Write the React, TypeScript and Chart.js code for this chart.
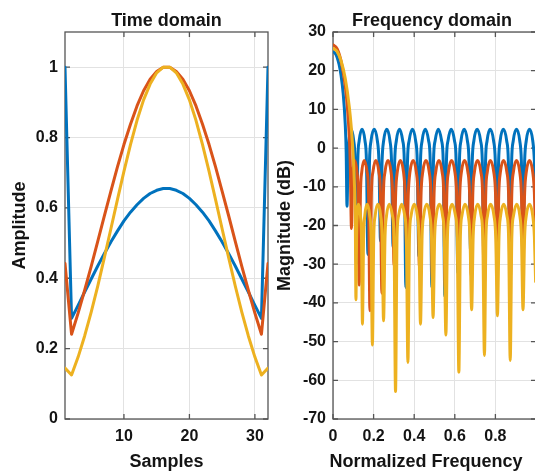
import React, { useEffect, useRef } from "react";
import { Chart, registerables } from "chart.js";

Chart.register(...registerables);

// ---------- data ----------
const sampleIndex = [1, 2, 3, 4, 5, 6, 7, 8, 9, 10, 11, 12, 13, 14, 15, 16, 17, 18, 19, 20, 21, 22, 23, 24, 25, 26, 27, 28, 29, 30, 31, 32];

const window20dB = [1, 0.286, 0.323, 0.361, 0.398, 0.435, 0.47, 0.503, 0.534, 0.563, 0.588, 0.609, 0.627, 0.641, 0.65, 0.655, 0.655, 0.65, 0.641, 0.627, 0.609, 0.588, 0.563, 0.534, 0.503, 0.47, 0.435, 0.398, 0.361, 0.323, 0.286, 1];
const window30dB = [0.442, 0.241, 0.301, 0.366, 0.434, 0.505, 0.577, 0.647, 0.716, 0.78, 0.838, 0.89, 0.933, 0.966, 0.988, 1, 1, 0.988, 0.966, 0.933, 0.89, 0.838, 0.78, 0.716, 0.647, 0.577, 0.505, 0.434, 0.366, 0.301, 0.241, 0.442];
const window40dB = [0.145, 0.125, 0.176, 0.236, 0.304, 0.378, 0.458, 0.54, 0.623, 0.704, 0.78, 0.849, 0.907, 0.952, 0.984, 1, 1, 0.984, 0.952, 0.907, 0.849, 0.78, 0.704, 0.623, 0.54, 0.458, 0.378, 0.304, 0.236, 0.176, 0.125, 0.145];

const timeXTicks = [10, 20, 30];
const timeYTicks = [0, 0.2, 0.4, 0.6, 0.8, 1];
const freqXTicks = [0, 0.2, 0.4, 0.6, 0.8, 1];
const freqYTicks = [-70, -60, -50, -40, -30, -20, -10, 0, 10, 20, 30];

// [normalized frequency, magnitude dB]
const response20dB: [number, number][] = [
  [0, 24.9], [0.01, 24.55], [0.02, 23.5], [0.03, 21.6], [0.04, 18.7], [0.05, 14.2], [0.06, 6.5], [0.065, -1.1],
  [0.069, -15], [0.074, -3.4], [0.079, 1.9], [0.089, 4.9], [0.102, 1.9], [0.1085, -3.4],
  [0.115, -30], [0.122, -3.4], [0.129, 1.9], [0.143, 4.9], [0.1575, 1.9], [0.1648, -3.4],
  [0.172, -27.5], [0.1798, -3.4], [0.1875, 1.9], [0.203, 4.9], [0.2185, 1.9], [0.2263, -3.4],
  [0.234, -24], [0.2418, -3.4], [0.2495, 1.9], [0.265, 4.9], [0.2805, 1.9], [0.2883, -3.4],
  [0.296, -25.6], [0.304, -3.4], [0.312, 1.9], [0.328, 4.9], [0.3435, 1.9], [0.3513, -3.4],
  [0.359, -36], [0.367, -3.4], [0.375, 1.9], [0.391, 4.9], [0.407, 1.9], [0.415, -3.4],
  [0.423, -28], [0.431, -3.4], [0.439, 1.9], [0.455, 4.9], [0.471, 1.9], [0.479, -3.4],
  [0.487, -36], [0.495, -3.4], [0.503, 1.9], [0.519, 4.9], [0.535, 1.9], [0.543, -3.4],
  [0.551, -38.3], [0.5588, -3.4], [0.5665, 1.9], [0.582, 4.9], [0.5985, 1.9], [0.6068, -3.4],
  [0.615, -32.3], [0.6228, -3.4], [0.6305, 1.9], [0.646, 4.9], [0.662, 1.9], [0.67, -3.4],
  [0.678, -27], [0.686, -3.4], [0.694, 1.9], [0.71, 4.9], [0.727, 1.9], [0.7355, -3.4],
  [0.744, -31], [0.7515, -3.4], [0.759, 1.9], [0.774, 4.9], [0.791, 1.9], [0.7995, -3.4],
  [0.808, -26], [0.8158, -3.4], [0.8235, 1.9], [0.839, 4.9], [0.8555, 1.9], [0.8638, -3.4],
  [0.872, -29], [0.88, -3.4], [0.888, 1.9], [0.904, 4.9], [0.92, 1.9], [0.928, -3.4],
  [0.936, -24], [0.944, -3.4], [0.952, 1.9], [0.968, 4.9], [0.984, 1.9], [0.992, -3.4],
  [0.998, -15],
];

const response30dB: [number, number][] = [
  [0, 26.7], [0.02, 25.7], [0.04, 22.4], [0.06, 16.2], [0.07, 11.1], [0.08, 3.3], [0.085, -3.5],
  [0.091, -20.8], [0.095, -11.5], [0.099, -6.2], [0.107, -3.2], [0.118, -6.2], [0.1235, -11.5],
  [0.129, -35.4], [0.1353, -11.5], [0.1415, -6.2], [0.154, -3.2], [0.168, -6.2], [0.175, -11.5],
  [0.182, -42], [0.1893, -11.5], [0.1965, -6.2], [0.211, -3.2], [0.226, -6.2], [0.2335, -11.5],
  [0.241, -37.5], [0.2485, -11.5], [0.256, -6.2], [0.271, -3.2], [0.286, -6.2], [0.2935, -11.5],
  [0.301, -30.3], [0.3088, -11.5], [0.3165, -6.2], [0.332, -3.2], [0.3475, -6.2], [0.3553, -11.5],
  [0.363, -26], [0.371, -11.5], [0.379, -6.2], [0.395, -3.2], [0.4105, -6.2], [0.4183, -11.5],
  [0.426, -30.8], [0.434, -11.5], [0.442, -6.2], [0.458, -3.2], [0.474, -6.2], [0.482, -11.5],
  [0.49, -34], [0.498, -11.5], [0.506, -6.2], [0.522, -3.2], [0.5375, -6.2], [0.5453, -11.5],
  [0.553, -36], [0.5608, -11.5], [0.5685, -6.2], [0.584, -3.2], [0.6005, -6.2], [0.6088, -11.5],
  [0.617, -30], [0.6248, -11.5], [0.6325, -6.2], [0.648, -3.2], [0.6645, -6.2], [0.6728, -11.5],
  [0.681, -33], [0.6888, -11.5], [0.6965, -6.2], [0.712, -3.2], [0.7285, -6.2], [0.7368, -11.5],
  [0.745, -37], [0.7525, -11.5], [0.76, -6.2], [0.775, -3.2], [0.792, -6.2], [0.8005, -11.5],
  [0.809, -31], [0.8168, -11.5], [0.8245, -6.2], [0.84, -3.2], [0.8565, -6.2], [0.8648, -11.5],
  [0.873, -35], [0.8808, -11.5], [0.8885, -6.2], [0.904, -3.2], [0.92, -6.2], [0.928, -11.5],
  [0.936, -30], [0.944, -11.5], [0.952, -6.2], [0.968, -3.2], [0.984, -6.2], [0.992, -11.5],
  [0.998, -23],
];

const response40dB: [number, number][] = [
  [0, 25.8], [0.02, 25], [0.04, 22.5], [0.06, 18.1], [0.08, 10.8], [0.09, 5.4], [0.1, -2.5], [0.105, -8.4], [0.11, -19],
  [0.113, -39.2], [0.1163, -22.8], [0.1195, -17.5], [0.126, -14.5], [0.1355, -17.5], [0.1403, -22.8],
  [0.145, -45.5], [0.1508, -22.8], [0.1565, -17.5], [0.168, -14.5], [0.181, -17.5], [0.1875, -22.8],
  [0.194, -50.9], [0.2008, -22.8], [0.2075, -17.5], [0.221, -14.5], [0.235, -17.5], [0.242, -22.8],
  [0.249, -44.6], [0.2563, -22.8], [0.2635, -17.5], [0.278, -14.5], [0.293, -17.5], [0.3005, -22.8],
  [0.308, -62.9], [0.3155, -22.8], [0.323, -17.5], [0.338, -14.5], [0.3535, -17.5], [0.3613, -22.8],
  [0.369, -55.4], [0.3768, -22.8], [0.3845, -17.5], [0.4, -14.5], [0.4155, -17.5], [0.4233, -22.8],
  [0.431, -45.5], [0.4388, -22.8], [0.4465, -17.5], [0.462, -14.5], [0.4775, -17.5], [0.4853, -22.8],
  [0.493, -43.8], [0.5008, -22.8], [0.5085, -17.5], [0.524, -14.5], [0.54, -17.5], [0.548, -22.8],
  [0.556, -48.3], [0.5638, -22.8], [0.5715, -17.5], [0.587, -14.5], [0.6035, -17.5], [0.6118, -22.8],
  [0.62, -57.9], [0.6275, -22.8], [0.635, -17.5], [0.65, -14.5], [0.6665, -17.5], [0.6748, -22.8],
  [0.683, -41.8], [0.6905, -22.8], [0.698, -17.5], [0.713, -14.5], [0.7295, -17.5], [0.7378, -22.8],
  [0.746, -53.6], [0.7535, -22.8], [0.761, -17.5], [0.776, -14.5], [0.793, -17.5], [0.8015, -22.8],
  [0.81, -43.3], [0.8178, -22.8], [0.8255, -17.5], [0.841, -14.5], [0.857, -17.5], [0.865, -22.8],
  [0.873, -54.9], [0.881, -22.8], [0.889, -17.5], [0.905, -14.5], [0.9205, -17.5], [0.9283, -22.8],
  [0.936, -41.8], [0.944, -22.8], [0.952, -17.5], [0.968, -14.5], [0.984, -17.5], [0.992, -22.8],
  [0.998, -34.5],
];

const seriesColors = ["#0072BD", "#D95319", "#EDB120"];

// ---------- styling ----------
const FONT = '"Liberation Sans", Arial, Helvetica, sans-serif';
const TEXT = "#141414";
const GRID = "#e2e2e2";

const framePlugin = {
  id: "matlabFrame",
  beforeDatasetsDraw(chart: any) {
    const { ctx, chartArea: a } = chart;
    const xs = chart.scales.x;
    const ys = chart.scales.y;
    ctx.save();
    ctx.strokeStyle = "#555555";
    ctx.lineWidth = 1.3;
    ctx.strokeRect(a.left, a.top, a.right - a.left, a.bottom - a.top);
    ctx.beginPath();
    for (const t of xs.ticks) {
      const p = xs.getPixelForValue(t.value);
      ctx.moveTo(p, a.bottom);
      ctx.lineTo(p, a.bottom - 5);
      ctx.moveTo(p, a.top);
      ctx.lineTo(p, a.top + 5);
    }
    for (const t of ys.ticks) {
      const p = ys.getPixelForValue(t.value);
      ctx.moveTo(a.left, p);
      ctx.lineTo(a.left + 5, p);
      ctx.moveTo(a.right, p);
      ctx.lineTo(a.right - 5, p);
    }
    ctx.stroke();
    ctx.restore();
  },
  afterDraw(chart: any, _args: any, opts: any) {
    const { ctx, chartArea: a } = chart;
    const cx = (a.left + a.right) / 2;
    ctx.save();
    ctx.fillStyle = TEXT;
    ctx.font = `bold 18px ${FONT}`;
    ctx.textAlign = "center";
    ctx.textBaseline = "alphabetic";
    ctx.fillText(opts.title, cx + opts.titleShift, 26);
    ctx.fillText(opts.xTitle, cx + opts.xTitleShift, 467);
    ctx.translate(opts.yTitleX, (a.top + a.bottom) / 2);
    ctx.rotate(-Math.PI / 2);
    ctx.fillText(opts.yTitle, 0, 0);
    ctx.restore();
  },
};

const tickFont = { family: FONT, size: 16, weight: "bold" as const };

function makeScales(
  xMin: number, xMax: number, xTicks: number[], xLabel: (v: number) => string,
  yMin: number, yMax: number, yTicks: number[], yWidth: number
) {
  return {
    x: {
      type: "linear" as const,
      min: xMin,
      max: xMax,
      afterBuildTicks: (s: any) => { s.ticks = xTicks.map((v) => ({ value: v })); },
      afterFit: (s: any) => { s.height = 56; s.paddingLeft = 0; s.paddingRight = 0; },
      grid: { color: GRID, lineWidth: 1, drawTicks: false },
      border: { display: false },
      ticks: { font: tickFont, color: TEXT, padding: 8, autoSkip: false, maxRotation: 0, callback: (v: any) => xLabel(Number(v)) },
    },
    y: {
      type: "linear" as const,
      min: yMin,
      max: yMax,
      afterBuildTicks: (s: any) => { s.ticks = yTicks.map((v) => ({ value: v })); },
      afterFit: (s: any) => { s.width = yWidth; s.paddingTop = 0; s.paddingBottom = 0; },
      grid: { color: GRID, lineWidth: 1, drawTicks: false },
      border: { display: false },
      ticks: { font: tickFont, color: TEXT, padding: 7, autoSkip: false, callback: (v: any) => String(Number(v)) },
    },
  };
}

export default function App() {
  const leftRef = useRef<HTMLCanvasElement>(null);
  const rightRef = useRef<HTMLCanvasElement>(null);

  useEffect(() => {
    const windows = [window20dB, window30dB, window40dB];
    const left = new Chart(leftRef.current as HTMLCanvasElement, {
      type: "line",
      data: {
        datasets: windows.map((w, i) => ({
          label: ["20 dB", "30 dB", "40 dB"][i],
          data: sampleIndex.map((n, k) => ({ x: n, y: w[k] })),
          borderColor: seriesColors[i],
          backgroundColor: seriesColors[i],
          borderWidth: 3,
          pointRadius: 0,
          tension: 0,
          borderJoinStyle: "round" as const,
          borderCapStyle: "round" as const,
          fill: false,
          order: 3 - i,
        })),
      },
      options: {
        responsive: false,
        animation: false,
        devicePixelRatio: 1,
        layout: { padding: { top: 32, right: 2, left: 0, bottom: 0 } },
        plugins: {
          legend: { display: false },
          tooltip: { enabled: false },
          matlabFrame: { title: "Time domain", titleShift: 0, xTitle: "Samples", xTitleShift: 0, yTitle: "Amplitude", yTitleX: 25 },
        } as any,
        scales: makeScales(1, 32, timeXTicks, (v) => String(v), 0, 1.1, timeYTicks, 65) as any,
      },
      plugins: [framePlugin],
    });

    const responses = [response20dB, response30dB, response40dB];
    const right = new Chart(rightRef.current as HTMLCanvasElement, {
      type: "line",
      data: {
        datasets: responses.map((r, i) => ({
          label: ["20 dB", "30 dB", "40 dB"][i],
          data: r.map(([f, m]) => ({ x: f, y: m })),
          borderColor: seriesColors[i],
          backgroundColor: seriesColors[i],
          borderWidth: 3,
          pointRadius: 0,
          cubicInterpolationMode: "monotone" as const,
          borderJoinStyle: "round" as const,
          borderCapStyle: "round" as const,
          fill: false,
          order: 3 - i,
        })),
      },
      options: {
        responsive: false,
        animation: false,
        devicePixelRatio: 1,
        layout: { padding: { top: 32, right: 0, left: 0, bottom: 0 } },
        plugins: {
          legend: { display: false },
          tooltip: { enabled: false },
          matlabFrame: { title: "Frequency domain", titleShift: -2.5, xTitle: "Normalized Frequency", xTitleShift: -8.5, yTitle: "Magnitude (dB)", yTitleX: 19.5 },
        } as any,
        scales: makeScales(0, 1, freqXTicks, (v) => (v === 1 ? "" : String(v)), -70, 30, freqYTicks, 63) as any,
      },
      plugins: [framePlugin],
    });

    return () => {
      left.destroy();
      right.destroy();
    };
  }, []);

  return (
    <div style={{ position: "fixed", left: 0, top: 0, width: 535, height: 475, overflow: "hidden", background: "#ffffff" }}>
      <canvas ref={leftRef} width={270} height={475} style={{ position: "absolute", left: 0, top: 0 }} />
      <canvas ref={rightRef} width={266} height={475} style={{ position: "absolute", left: 270, top: 0 }} />
    </div>
  );
}
